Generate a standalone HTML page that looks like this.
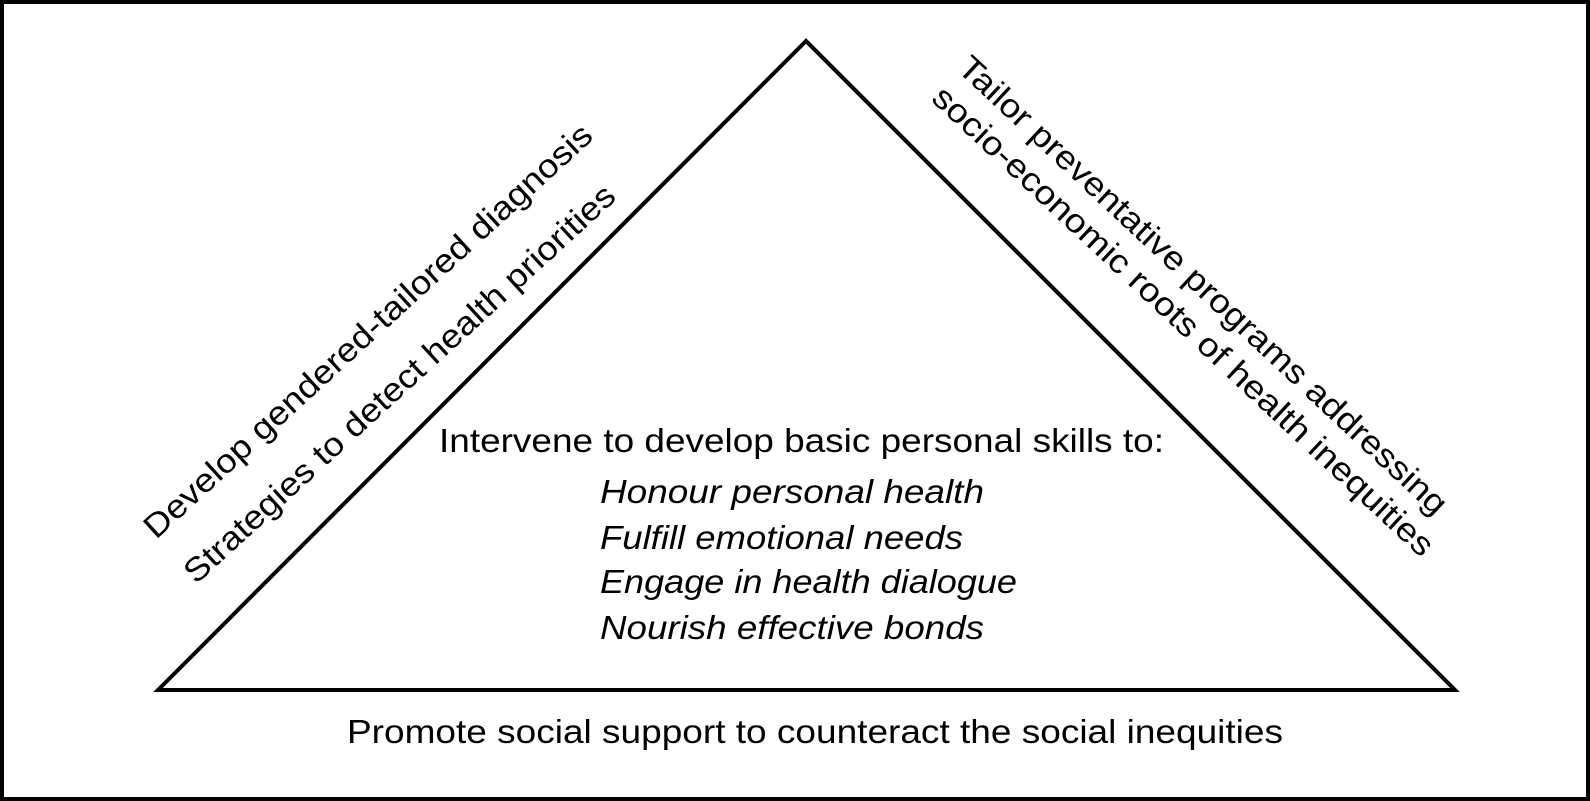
<!DOCTYPE html>
<html><head><meta charset="utf-8"><style>
html,body{margin:0;padding:0;background:#fff;}
svg{display:block;}
text{font-family:"Liberation Sans",sans-serif;fill:#000;}
</style></head><body>
<svg width="1590" height="801" viewBox="0 0 1590 801" xmlns="http://www.w3.org/2000/svg">
<rect x="2" y="2" width="1586" height="797" fill="#fff" stroke="#000" stroke-width="4"/>
<polygon points="806,41 158,690 1455,690" fill="none" stroke="#000" stroke-width="4" stroke-linejoin="miter"/>
<g font-size="33">
<text transform="translate(156,540) rotate(-42.5)" textLength="595" lengthAdjust="spacingAndGlyphs">Develop gendered-tailored diagnosis</text>
<text transform="translate(196,585) rotate(-42.5)" textLength="572" lengthAdjust="spacingAndGlyphs">Strategies to detect health priorities</text>
<text transform="translate(956,70) rotate(43)" textLength="655" lengthAdjust="spacingAndGlyphs">Tailor preventative programs addressing</text>
<text transform="translate(930,100) rotate(43)" textLength="672" lengthAdjust="spacingAndGlyphs">socio-economic roots of health inequities</text>
</g>
<g font-size="33">
<text x="439" y="452" textLength="725" lengthAdjust="spacingAndGlyphs">Intervene to develop basic personal skills to:</text>
<text x="600" y="503" font-style="italic" textLength="384" lengthAdjust="spacingAndGlyphs">Honour personal health</text>
<text x="600" y="549" font-style="italic" textLength="363" lengthAdjust="spacingAndGlyphs">Fulfill emotional needs</text>
<text x="600" y="593" font-style="italic" textLength="417" lengthAdjust="spacingAndGlyphs">Engage in health dialogue</text>
<text x="600" y="639" font-style="italic" textLength="384" lengthAdjust="spacingAndGlyphs">Nourish effective bonds</text>
<text x="347" y="743" textLength="936" lengthAdjust="spacingAndGlyphs">Promote social support to counteract the social inequities</text>
</g>
</svg>
</body></html>
